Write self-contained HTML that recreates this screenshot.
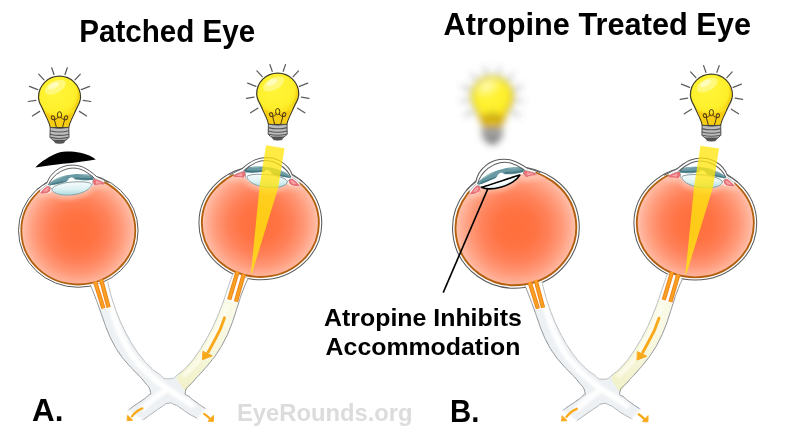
<!DOCTYPE html>
<html lang="en">
<head>
<meta charset="utf-8">
<title>Patched Eye vs Atropine Treated Eye</title>
<style>
html,body{margin:0;padding:0;background:#fff;}
body{width:800px;height:437px;overflow:hidden;}
svg{display:block;}
text{font-family:"Liberation Sans",sans-serif;font-weight:700;}
</style>
</head>
<body>
<svg width="800" height="437" viewBox="0 0 800 437">
<defs>
  <radialGradient id="vit" gradientUnits="userSpaceOnUse" cx="78.3" cy="231" r="57">
    <stop offset="0" stop-color="#ff6f3b"/>
    <stop offset="0.3" stop-color="#ff7242"/>
    <stop offset="0.55" stop-color="#ff8159"/>
    <stop offset="0.75" stop-color="#ff9877"/>
    <stop offset="0.9" stop-color="#ffaf95"/>
    <stop offset="1" stop-color="#ffc3ae"/>
  </radialGradient>
  <linearGradient id="lensg" x1="0" y1="0" x2="0" y2="1">
    <stop offset="0" stop-color="#f6fcfc"/>
    <stop offset="0.55" stop-color="#def1f3"/>
    <stop offset="1" stop-color="#a9dbe1"/>
  </linearGradient>
  <linearGradient id="nerveY" gradientUnits="userSpaceOnUse" x1="236" y1="290" x2="180" y2="388">
    <stop offset="0" stop-color="#fafae9"/>
    <stop offset="0.5" stop-color="#f8f8e0"/>
    <stop offset="0.85" stop-color="#f3f3cf"/>
    <stop offset="1" stop-color="#f1f1c8"/>
  </linearGradient>
  <radialGradient id="bulbg" gradientUnits="userSpaceOnUse" cx="56" cy="92" r="27">
    <stop offset="0" stop-color="#fff538"/>
    <stop offset="0.7" stop-color="#fff02c"/>
    <stop offset="1" stop-color="#f8dc18"/>
  </radialGradient>
  <filter id="blur" x="-40%" y="-40%" width="180%" height="180%">
    <feGaussianBlur stdDeviation="3.6"/>
  </filter>
  <filter id="soft" x="-10%" y="-10%" width="120%" height="120%">
    <feGaussianBlur stdDeviation="0.35"/>
  </filter>

  <!-- light bulb body (no rays) -->
  <g id="bulbBody">
    <path d="M50.4,127.6 C50,125 49,122.5 47.6,119.5 L41.6,106.8 C39.6,103.2 38.5,100.3 38.5,97.2 A21,21 0 1 1 80.5,97.2 C80.5,100.3 79.4,103.2 77.4,106.8 L71.4,119.5 C70,122.5 69,125 68.6,127.6 Z" fill="url(#bulbg)" stroke="#403e28" stroke-width="1.25" stroke-linejoin="round"/>
    <path d="M50.9,127 C50.3,124.5 49.3,122 48.1,119.4 L44.6,112 C49,114.6 54,115.6 59.5,115.6 C65,115.6 70,114.6 74.4,112 L70.9,119.4 C69.7,122 68.7,124.5 68.1,127 Z" fill="#f6cb14" opacity="0.9"/>
    <path d="M77.3,88 C79.3,96 76.8,105 70.8,110.5 C75.3,108.5 79.3,103.5 79.8,97.5 C80,94 79.1,90.5 77.3,88 Z" fill="#f2cf12" opacity="0.75"/>
    <ellipse cx="55.4" cy="87.2" rx="11.4" ry="6" transform="rotate(-27 55.4 87.2)" fill="#fffa92" opacity="0.75"/>
    <ellipse cx="53.6" cy="85.6" rx="6" ry="3" transform="rotate(-27 53.6 85.6)" fill="#fffcd4" opacity="0.7"/>
    <!-- filament -->
    <path d="M56.7,128.2 L54.5,120.2 M62.3,128.2 L64.5,120.2" fill="none" stroke="#4a3812" stroke-width="1" stroke-linecap="round"/>
    <ellipse cx="59.5" cy="114.8" rx="2.1" ry="3.1" fill="none" stroke="#4a3812" stroke-width="1"/>
    <ellipse cx="53" cy="117.8" rx="1.6" ry="2" transform="rotate(-28 53 117.8)" fill="none" stroke="#4a3812" stroke-width="1"/>
    <ellipse cx="66" cy="117.8" rx="1.6" ry="2" transform="rotate(28 66 117.8)" fill="none" stroke="#4a3812" stroke-width="1"/>
    <path d="M54.6,119.8 C55.8,119.2 57,118.6 58,117.6 M64.4,119.8 C63.2,119.2 62,118.6 61,117.6" fill="none" stroke="#4a3812" stroke-width="1" stroke-linecap="round"/>
    <!-- base -->
    <path d="M50.2,127.4 Q59.5,129.4 68.8,127.4 L69,137.4 Q66.8,140.2 64.6,140.6 L54.4,140.6 Q52.2,140.2 50,137.4 Z" fill="#bcbcbc" stroke="#4c4c4c" stroke-width="1" stroke-linejoin="round"/>
    <path d="M50.1,130.8 Q59.5,133.2 68.9,130.8 M50.1,134.2 Q59.5,136.6 68.9,134.2 M50.6,137.4 Q59.5,139.6 68.4,137.4" fill="none" stroke="#555" stroke-width="1.1"/>
    <path d="M53.6,140.2 L65.4,140.2 L63.6,143 Q59.5,143.8 55.4,143 Z" fill="#555" stroke="#444" stroke-width="0.6" stroke-linejoin="round"/>
  </g>
  <g id="bulbRays" stroke="#5c5c5c" stroke-width="1.25" stroke-linecap="round" fill="none">
    <path d="M51.7,67.8 L54,74.5 M67.3,67.8 L65,74.5 M38.7,74.1 L44,79.9 M80.3,74.1 L75,79.9 M29.5,86.3 L37.7,89.6 M89.5,86.3 L81.3,89.6 M28.3,101.5 L35.8,100.3 M90.7,101.5 L83.2,100.3 M32.4,116 L39.6,111.4 M86.6,116 L79.4,111.4"/>
  </g>
  <g id="bulb"><use href="#bulbRays"/><use href="#bulbBody"/></g>

  <clipPath id="flatClip"><path d="M30,193.6 L43,193.9 L50.2,192.7 L51.8,188.3 C58,190 64,190.6 69.6,190.4 C77,190 84,187 89.3,181.8 L93.2,182.4 L94.6,185.4 L100.4,184.4 L103.4,184.8 L115,186 L115,215 L30,215 Z"/></clipPath>
  <clipPath id="vitClip"><ellipse cx="78.3" cy="230.5" rx="56.4" ry="53.4"/></clipPath>
  <filter id="glow" x="-20%" y="-100%" width="140%" height="300%">
    <feGaussianBlur stdDeviation="2.4"/>
  </filter>
  <!-- eye base, drawn in absolute coordinates of the first (left) eye -->
  <g id="eyeBack">
    <ellipse cx="78.3" cy="230.5" rx="59.8" ry="56.8" fill="#fff" stroke="#5a5a5a" stroke-width="1"/>
    <ellipse cx="78.3" cy="230.5" rx="57" ry="54" fill="url(#vit)" stroke="#b25f0e" stroke-width="1.8"/>
  </g>
  <g id="glowN">
    <g clip-path="url(#vitClip)">
      <path d="M36,194 L50.2,192.7 L51.4,190.6 C52.2,191.8 54,193 56.6,194 C61.6,196 69.6,196.2 77,194.5 C84.8,192.8 90.4,189.2 92,185.8 L94.6,185.4 L100.4,184.4 L110,185.6" fill="none" stroke="#ffc6b0" stroke-width="7" stroke-linejoin="round" opacity="0.85" filter="url(#glow)"/>
    </g>
  </g>
  <g id="eyeFront">
    <!-- anterior segment background -->
    <path d="M47.2,182.6 C48.8,177.3 53.3,171.8 59.3,168.4 C63.3,166.2 67.8,165.1 72.3,165.1 C76.8,165.2 80.3,165.9 83.6,167.4 C87.3,169.1 92.3,172.6 96.6,176.6 L104.6,180.4 L103.4,184.8 L100.4,184.4 L94.6,185.4 L92,185.8 C90.4,189.2 84.8,192.8 77,194.5 C69.6,196.2 61.6,196 56.6,194 C54,193 52.2,191.8 51.4,190.6 L50.2,192.7 L43,193.9 L40,193.2 L40.4,186.4 Z" fill="#fff"/>
    <!-- sclera edges near limbus -->
    <path d="M37.2,189.2 C40.4,186.8 43.8,184.6 47.2,182.6" fill="none" stroke="#5a5a5a" stroke-width="1"/>
    <path d="M96.6,176.6 C100.6,178.2 104.6,180.2 108.6,182.6" fill="none" stroke="#5a5a5a" stroke-width="1"/>
    <path d="M39,191.4 C41.6,189 44.4,186.6 47.2,184.6" fill="none" stroke="#8a8a8a" stroke-width="0.6"/>
    <path d="M94.4,178.6 C98,179.8 101.6,181.4 105,183.2" fill="none" stroke="#8a8a8a" stroke-width="0.6"/>
    <!-- ciliary body -->
    <path d="M39.8,193.2 C41.8,190.6 44.6,188 47.4,186 L50.2,187.4 C51,188.6 50.6,190.2 49.6,191.4 C48.6,192.4 47,193 45.6,193.2 C43.6,193.8 41.6,193.8 39.8,193.2 Z" fill="#e96f76"/>
    <path d="M43,191.6 C44.4,190 46,188.6 47.6,187.6 L49,188.6 C48.4,189.8 47.6,190.8 46.6,191.6 Z" fill="#f5a3a6"/>
    <path d="M48.2,186 C49.8,186.6 51,187.6 52,189" fill="none" stroke="#7d6a6a" stroke-width="0.6"/>
    <path d="M93.8,178.8 C97.4,179.6 101.2,181 104.4,183 L103.6,184.8 C100.6,184.4 97.4,184.6 94.6,185.4 C93.6,184.4 93,183 93,181.6 C93,180.6 93.2,179.6 93.8,178.8 Z" fill="#e96f76"/>
    <path d="M95.8,180.6 C98.2,181.2 100.6,182.2 102.6,183.4 C100.4,183.2 98.2,183.4 96,183.8 Z" fill="#f5a3a6"/>
    <path d="M93.6,179.2 C92.6,181 92.4,183.4 93,185.4" fill="none" stroke="#7d6a6a" stroke-width="0.6"/>
    <!-- iris -->
    <path d="M48,184.4 C51,181.6 55.6,179 60.4,177.1 C64.4,175.6 69,174.6 74,174.2 C79,173.8 84.6,173.9 89,174.6 C91.4,175 93,176 93.8,177.6 L92.8,179.8 C88,180.8 82,180.6 76.8,179.6 L74.6,179.2 C73.8,178 72.4,177.4 71.2,177.6 C69.8,177.8 68.6,178.8 67.8,180.4 L65.6,181.8 C60,183.4 54.6,184.8 49.2,185.6 Z" fill="#6a9aa3"/>
    <path d="M49.2,185.6 C54.6,184.8 60,183.4 65.6,181.8 L67.8,180.4 C63,180.8 58,182 53.4,183.2 C51.6,183.8 50.2,184.6 49.2,185.6 Z M74.6,179.2 C80,179.4 86,179.6 92.8,179.8 L93.8,177.6 C88,178.4 81,178.2 76,177.4 Z" fill="#3f7480" opacity="0.9"/>
    <path d="M52.4,181 C56.4,178.4 61.6,176.6 66.6,175.6 C63,177.4 58,179.6 52.4,181 Z M78,174.4 C83,174.2 88,174.6 91.4,175.8 C87,175.6 82.4,175.2 78,174.4 Z" fill="#a3c6cc" opacity="0.8"/>
    <!-- cornea -->
    <path d="M47.2,182.6 C48.8,177.3 53.3,171.8 59.3,168.4 C63.3,166.2 67.8,165.1 72.3,165.1 C76.8,165.2 80.3,165.9 83.6,167.4 C87.3,169.1 92.3,172.6 96.6,176.6" fill="none" stroke="#5a5a5a" stroke-width="1"/>
    <path d="M48.6,184.6 C50.6,179.6 54.8,175 60.4,171.7 C64,169.7 68,168.3 72.2,168.1 C76,168 79.4,168.6 82.2,169.9 C85.8,171.5 90.4,174.5 94.6,178.6" fill="none" stroke="#5e5e5e" stroke-width="1"/>
  </g>
  <g id="eyeBase"><use href="#eyeBack"/><use href="#glowN"/><use href="#eyeFront"/></g>
  <g id="lensNormal">
    <path d="M52,189.2 C52.6,186.6 58,184 66,182.7 C74,181.5 84,181.4 89.4,182.8 C91.2,183.4 91.8,184.2 91.4,185.2 C90,188.8 84.6,192.4 77,194.1 C69.6,195.8 61.6,195.6 56.6,193.6 C53.6,192.4 51.8,190.6 52,189.2 Z" fill="url(#lensg)" stroke="#6f868a" stroke-width="0.8"/>
    <path d="M56,188.6 C60,185.9 68,184.2 76,183.8 C70,185.2 62,186.8 56,188.6 Z" fill="#fff" opacity="0.5"/>
  </g>
  <g id="eye"><use href="#eyeBase"/><use href="#lensNormal"/></g>

  <!-- optic nerves + chiasm, absolute coordinates of panel A -->
  <clipPath id="bodyClip"><path d="M90.5,285.3C92,289.1 92.2,289.2 95.1,296.8C98,304.4 96.5,300.5 99.3,308.2C102.1,315.9 100.6,312.1 103.4,319.8C106.2,327.5 104.5,323.8 107.7,331.4C110.9,339 109.1,335.4 112.9,342.6C116.7,349.8 114.6,346.4 119.2,353.1C123.8,359.8 121.5,356.6 126.8,362.8C132.1,369 129.6,365.8 135.2,371.8C140.8,377.8 138.5,374.4 143.5,380.8C148.5,387.2 148.9,385.9 150.2,391C151.5,396.1 150.5,392.7 147.5,396C144.5,399.3 145.8,397.7 141.2,401C136.7,404.3 138.3,402.7 133.8,406C129.2,409.3 129.6,409.3 127.5,411L141.9,420.4C142.9,419.8 141.1,421.2 145,418.5C148.9,415.8 148.3,416 153.8,412.2C159.2,408.5 156.5,410.2 161.2,407.2C166,404.3 163.5,404.1 168.1,403.3C172.7,402.5 170.6,403 175,404.8C179.4,406.5 177.1,405.8 181.2,408.5C185.4,411.2 182.9,410 187.5,412.9C192.1,415.8 191.5,415.2 195,417.2C198.5,419.3 197.1,418.5 198.1,419.1L206.2,409.1C205,408.3 205.8,408.9 202.5,406.6C199.2,404.3 200.4,405.4 196.2,402.2C192.1,399.1 193.6,400.8 190,397.2C186.4,393.7 184.3,396.8 185.4,391.5C186.5,386.2 187.8,387.9 193.4,381.3C199,374.7 196.5,378.1 202.2,371.6C207.9,365.1 205.2,368.5 210.6,361.7C216,354.9 213.6,358.4 218.3,351.1C223,343.8 220.8,347.6 224.8,339.8C228.8,332 226.9,335.9 230.2,327.8C233.5,319.7 231.8,323.8 234.6,315.5C237.4,307.2 235.9,311.3 238.6,303C241.3,294.7 239.7,298.8 242.8,290.7C245.9,282.6 246.2,282.7 247.9,278.7L232.8,273.9C231.4,277.9 231.3,277.8 228.6,285.8C225.9,293.8 227.4,289.8 224.6,297.8C221.8,305.8 223.3,301.9 220.2,309.7C217.1,317.5 218.8,313.7 215.4,321.3C212,328.9 213.8,325.2 209.9,332.6C206,340 208.1,336.4 203.7,343.6C199.3,350.8 201.7,347.4 196.8,354.3C191.9,361.2 194.6,358.1 189,364.3C183.4,370.5 186.6,368.1 179.9,372.9C173.2,377.7 176,378.6 168.8,378.8C161.6,379 164.8,377.7 158.3,373.4C151.8,369.1 154.9,371.3 149.2,365.9C143.5,360.5 146.3,363.3 141.3,357.2C136.3,351.1 138.7,354.1 134.3,347.5C129.9,340.9 132,344.2 128.2,337.3C124.4,330.4 126.2,333.8 122.8,326.7C119.4,319.6 121,323.2 118.1,315.9C115.2,308.6 116.5,312.3 114,304.8C111.5,297.3 112.6,301.1 110.5,293.5C108.4,285.9 108.6,285.8 107.7,281.9Z"/></clipPath>
  <g id="chiasm">
    <path d="M90.5,285.3C92,289.1 92.2,289.2 95.1,296.8C98,304.4 96.5,300.5 99.3,308.2C102.1,315.9 100.6,312.1 103.4,319.8C106.2,327.5 104.5,323.8 107.7,331.4C110.9,339 109.1,335.4 112.9,342.6C116.7,349.8 114.6,346.4 119.2,353.1C123.8,359.8 121.5,356.6 126.8,362.8C132.1,369 129.6,365.8 135.2,371.8C140.8,377.8 138.5,374.4 143.5,380.8C148.5,387.2 148.9,385.9 150.2,391C151.5,396.1 150.5,392.7 147.5,396C144.5,399.3 145.8,397.7 141.2,401C136.7,404.3 138.3,402.7 133.8,406C129.2,409.3 129.6,409.3 127.5,411L141.9,420.4C142.9,419.8 141.1,421.2 145,418.5C148.9,415.8 148.3,416 153.8,412.2C159.2,408.5 156.5,410.2 161.2,407.2C166,404.3 163.5,404.1 168.1,403.3C172.7,402.5 170.6,403 175,404.8C179.4,406.5 177.1,405.8 181.2,408.5C185.4,411.2 182.9,410 187.5,412.9C192.1,415.8 191.5,415.2 195,417.2C198.5,419.3 197.1,418.5 198.1,419.1L206.2,409.1C205,408.3 205.8,408.9 202.5,406.6C199.2,404.3 200.4,405.4 196.2,402.2C192.1,399.1 193.6,400.8 190,397.2C186.4,393.7 184.3,396.8 185.4,391.5C186.5,386.2 187.8,387.9 193.4,381.3C199,374.7 196.5,378.1 202.2,371.6C207.9,365.1 205.2,368.5 210.6,361.7C216,354.9 213.6,358.4 218.3,351.1C223,343.8 220.8,347.6 224.8,339.8C228.8,332 226.9,335.9 230.2,327.8C233.5,319.7 231.8,323.8 234.6,315.5C237.4,307.2 235.9,311.3 238.6,303C241.3,294.7 239.7,298.8 242.8,290.7C245.9,282.6 246.2,282.7 247.9,278.7L232.8,273.9C231.4,277.9 231.3,277.8 228.6,285.8C225.9,293.8 227.4,289.8 224.6,297.8C221.8,305.8 223.3,301.9 220.2,309.7C217.1,317.5 218.8,313.7 215.4,321.3C212,328.9 213.8,325.2 209.9,332.6C206,340 208.1,336.4 203.7,343.6C199.3,350.8 201.7,347.4 196.8,354.3C191.9,361.2 194.6,358.1 189,364.3C183.4,370.5 186.6,368.1 179.9,372.9C173.2,377.7 176,378.6 168.8,378.8C161.6,379 164.8,377.7 158.3,373.4C151.8,369.1 154.9,371.3 149.2,365.9C143.5,360.5 146.3,363.3 141.3,357.2C136.3,351.1 138.7,354.1 134.3,347.5C129.9,340.9 132,344.2 128.2,337.3C124.4,330.4 126.2,333.8 122.8,326.7C119.4,319.6 121,323.2 118.1,315.9C115.2,308.6 116.5,312.3 114,304.8C111.5,297.3 112.6,301.1 110.5,293.5C108.4,285.9 108.6,285.8 107.7,281.9Z" fill="#eef1f4"/>
    <path d="M232.8,273.9C231.4,277.9 231.3,277.8 228.6,285.8C225.9,293.8 227.4,289.8 224.6,297.8C221.8,305.8 223.3,301.9 220.2,309.7C217.1,317.5 218.8,313.7 215.4,321.3C212,328.9 213.8,325.2 209.9,332.6C206,340 208.1,336.4 203.7,343.6C199.3,350.8 201.7,347.4 196.8,354.3C191.9,361.2 194.6,358.1 189,364.3C183.4,370.5 182.9,370 179.9,372.9L176.4,378.2 L184.6,391 L185.4,391.5C188.1,388.1 187.8,387.9 193.4,381.3C199,374.7 196.5,378.1 202.2,371.6C207.9,365.1 205.2,368.5 210.6,361.7C216,354.9 213.6,358.4 218.3,351.1C223,343.8 220.8,347.6 224.8,339.8C228.8,332 226.9,335.9 230.2,327.8C233.5,319.7 231.8,323.8 234.6,315.5C237.4,307.2 235.9,311.3 238.6,303C241.3,294.7 239.7,298.8 242.8,290.7C245.9,282.6 246.2,282.7 247.9,278.7Z" fill="url(#nerveY)"/>
    <path d="M110,302 C114,320 121,338 131,354 C140,367 152,378 166,388 C174,393 183,399 192,405" fill="none" stroke="#fff" stroke-width="6" stroke-linecap="round" opacity="0.95" filter="url(#soft2)"/>
    <path d="M166,390 C158,395 150,401 143,408" fill="none" stroke="#fff" stroke-width="6" stroke-linecap="round" opacity="0.9" filter="url(#soft2)"/>
    <path d="M227,306 C222,320 215,335 207,348 C201,358 193,368 184,375" fill="none" stroke="#fffef4" stroke-width="4" stroke-linecap="round" opacity="0.75" filter="url(#soft2)"/>
    <g clip-path="url(#bodyClip)">
      <path d="M84,278 L112,276 L120,308.2 L96,309.6 Z" fill="#fff"/>
      <path d="M228,268 L254,276 L242,304.4 L219,298.6 Z" fill="#fff"/>
    </g>
    <path d="M90.5,285.3C92,289.1 92.2,289.2 95.1,296.8C98,304.4 96.5,300.5 99.3,308.2C102.1,315.9 100.6,312.1 103.4,319.8C106.2,327.5 104.5,323.8 107.7,331.4C110.9,339 109.1,335.4 112.9,342.6C116.7,349.8 114.6,346.4 119.2,353.1C123.8,359.8 121.5,356.6 126.8,362.8C132.1,369 129.6,365.8 135.2,371.8C140.8,377.8 138.5,374.4 143.5,380.8C148.5,387.2 148.9,385.9 150.2,391C151.5,396.1 150.5,392.7 147.5,396C144.5,399.3 145.8,397.7 141.2,401C136.7,404.3 138.3,402.7 133.8,406C129.2,409.3 129.6,409.3 127.5,411M206.2,409.1C205,408.3 205.8,408.9 202.5,406.6C199.2,404.3 200.4,405.4 196.2,402.2C192.1,399.1 193.6,400.8 190,397.2C186.4,393.7 184.3,396.8 185.4,391.5C186.5,386.2 187.8,387.9 193.4,381.3C199,374.7 196.5,378.1 202.2,371.6C207.9,365.1 205.2,368.5 210.6,361.7C216,354.9 213.6,358.4 218.3,351.1C223,343.8 220.8,347.6 224.8,339.8C228.8,332 226.9,335.9 230.2,327.8C233.5,319.7 231.8,323.8 234.6,315.5C237.4,307.2 235.9,311.3 238.6,303C241.3,294.7 239.7,298.8 242.8,290.7C245.9,282.6 246.2,282.7 247.9,278.7" fill="none" stroke="#8e9397" stroke-width="1" stroke-linecap="round"/>
    <path d="M232.8,273.9C231.4,277.9 231.3,277.8 228.6,285.8C225.9,293.8 227.4,289.8 224.6,297.8C221.8,305.8 223.3,301.9 220.2,309.7C217.1,317.5 218.8,313.7 215.4,321.3C212,328.9 213.8,325.2 209.9,332.6C206,340 208.1,336.4 203.7,343.6C199.3,350.8 201.7,347.4 196.8,354.3C191.9,361.2 194.6,358.1 189,364.3C183.4,370.5 186.6,368.1 179.9,372.9C173.2,377.7 176,378.6 168.8,378.8C161.6,379 164.8,377.7 158.3,373.4C151.8,369.1 154.9,371.3 149.2,365.9C143.5,360.5 146.3,363.3 141.3,357.2C136.3,351.1 138.7,354.1 134.3,347.5C129.9,340.9 132,344.2 128.2,337.3C124.4,330.4 126.2,333.8 122.8,326.7C119.4,319.6 121,323.2 118.1,315.9C115.2,308.6 116.5,312.3 114,304.8C111.5,297.3 112.6,301.1 110.5,293.5C108.4,285.9 108.6,285.8 107.7,281.9" fill="none" stroke="#b0b5b9" stroke-width="0.9" stroke-linecap="round"/>
    <path d="M141.9,420.4C142.9,419.8 141.1,421.2 145,418.5C148.9,415.8 148.3,416 153.8,412.2C159.2,408.5 156.5,410.2 161.2,407.2C166,404.3 163.5,404.1 168.1,403.3C172.7,402.5 170.6,403 175,404.8C179.4,406.5 177.1,405.8 181.2,408.5C185.4,411.2 182.9,410 187.5,412.9C192.1,415.8 191.5,415.2 195,417.2C198.5,419.3 197.1,418.5 198.1,419.1" fill="none" stroke="#a0a5a9" stroke-width="0.9" stroke-linecap="round"/>
    <path d="M125.5,411.5 L141.5,422.5 M208.6,409.4 L198.4,421.6" fill="none" stroke="#fff" stroke-width="5.5" stroke-linecap="round" filter="url(#soft2)"/>
  </g>
  <g id="sheathL">
    <path d="M95.1,281.6 L103.4,308.3" stroke="#f0861a" stroke-width="4.3" fill="none"/>
    <path d="M101.1,279.6 L108.6,307.4" stroke="#f0861a" stroke-width="4.3" fill="none"/>
    <path d="M95.1,281.6 L103.4,308.3 M101.1,279.6 L108.6,307.4" stroke="#f9a124" stroke-width="2.2" fill="none"/>
  </g>
  <g id="sheathR">
    <path d="M237.6,271.6 L229.2,299.6" stroke="#f0861a" stroke-width="4.3" fill="none"/>
    <path d="M243.8,274.2 L235.9,301.6" stroke="#f0861a" stroke-width="4.3" fill="none"/>
    <path d="M237.6,271.6 L229.2,299.6 M243.8,274.2 L235.9,301.6" stroke="#f9a124" stroke-width="2.2" fill="none"/>
  </g>
  <g id="arrows" fill="none" stroke="#f9a81a" stroke-linecap="round" stroke-linejoin="round">
    <path d="M224.5,317.8 C222,326 218.4,334 214,341.4 C212,345.2 210,349 208.2,352" stroke-width="2.9"/>
    <path d="M203.2,351.4 L212.2,355.8 L202.8,359.6 Z" fill="#f9a81a" stroke-width="1"/>
    <path d="M142.3,408.4 C138,410 134.6,413 132,416.4" stroke-width="2.3"/>
    <path d="M127.9,415.6 L132.6,420.2 L127.4,420.6 Z" fill="#f9a81a" stroke-width="1"/>
    <path d="M204.2,413.9 C206.4,415.4 208.4,417.2 210.2,419" stroke-width="2.3"/>
    <path d="M213.5,415.6 L213.4,421.4 L208.4,421.2 Z" fill="#f9a81a" stroke-width="1"/>
  </g>
  <polygon id="beam" points="266,145.3 284.5,148.2 278.4,187 251.9,273.6 250.9,273.6 259.6,186" fill="#ffe610" opacity="0.78"/>
  <filter id="soft2" x="-20%" y="-20%" width="140%" height="140%">
    <feGaussianBlur stdDeviation="1.2"/>
  </filter>
</defs>

<rect width="800" height="437" fill="#fff"/>

<!-- ============ Panel A ============ -->
<g id="panelA">
  <use href="#eye"/>
  <use href="#eye" transform="translate(260.35,-7.5) scale(-1.027,1) translate(-78.3,0)"/>
  <use href="#chiasm"/>
  <use href="#sheathL"/>
  <use href="#sheathR"/>
  <use href="#arrows"/>
  <use href="#beam"/>
  <use href="#bulb"/>
  <use href="#bulb" transform="translate(218.2,-3.2)"/>
  <path d="M35.4,167.4 C38.5,164 41.8,161.4 45.2,159.4 C48,157.4 51,155.7 54,154.4 C58,152.7 62,151.7 66.3,151.6 C71,151.5 76,151.9 80.4,152.7 C83.5,153.4 86.5,154.4 89.2,155.5 C91.6,156.6 93.8,157.9 95.8,159.4 C90.5,160.4 85.5,161.1 80.4,161.7 C74.5,162.5 68.5,163.2 62.8,163.8 C53.5,164.9 44.5,166.1 35.4,167.4 Z" fill="#000"/>
</g>

<!-- ============ Panel B ============ -->
<g id="panelB">
  <g transform="translate(515.9,227.6) rotate(-8.4) scale(1.06,1.066) translate(-78.3,-230.5)">
    <use href="#eyeBack"/>
    <use href="#eyeFront"/>
    <path d="M47,194.6 L51.8,188.3 C58,190 64,190.6 69.6,190.4 C77,190 84,187 89.3,181.8 L93.2,182.4 L95.2,185.8 C93,190 88.6,192.6 85.3,193.6 C80,196.4 70,197.4 65.2,196.8 C60,196.4 55.2,195.6 50.1,194.6 Z" fill="url(#vit)"/>
    <g clip-path="url(#vitClip)"><g clip-path="url(#flatClip)">
      <path d="M36,194 L50.2,192.7 L51.8,188.3 C58,190 64,190.6 69.6,190.4 C77,190 84,187 89.3,181.8 L94.6,185.4 L100.4,184.4 L110,185.6" fill="none" stroke="#ffc6b0" stroke-width="7" stroke-linejoin="round" opacity="0.85" filter="url(#glow)"/>
    </g></g>
  </g>
  <g id="lensFlat" transform="translate(0,0)">
    <path d="M481.4,187.3 C487,185.8 512,177.4 519.8,175.1 C517.5,179.5 510,184.6 501.5,187 C494,189.1 485.5,189.3 481.4,187.3 Z" fill="#e4f3f5" stroke="#000" stroke-width="1.6" stroke-linejoin="round"/>
    <path d="M486,187 C493,184.8 506,180.6 514,178 C510,181.6 504,184.6 498,186 C494,187 489.5,187.4 486,187 Z" fill="#fff" opacity="0.7"/>
  </g>
  <use href="#eye" transform="translate(695.3,-7.2) scale(-1.027,1) translate(-78.3,0)"/>
  <g transform="translate(434.5,0.4)">
    <use href="#chiasm"/>
    <use href="#sheathL"/>
    <use href="#sheathR"/>
    <use href="#arrows"/>
    <use href="#beam"/>
  </g>
  <use href="#bulb" transform="translate(651.9,-2.2)"/>
  <g filter="url(#blur)"><use href="#bulb" transform="translate(432.8,0)"/></g>
  <path d="M488,188.4 L443.2,292.6" stroke="#000" stroke-width="1.6" fill="none"/>
</g>

<!-- ============ Labels ============ -->
<g id="labels" opacity="0.999">
<text x="79.2" y="42.3" font-size="30.8" textLength="176" lengthAdjust="spacingAndGlyphs" fill="#000">Patched Eye</text>
<text x="443.6" y="35.4" font-size="30.8" textLength="307.4" lengthAdjust="spacingAndGlyphs" fill="#000">Atropine Treated Eye</text>
<text x="324" y="326.1" font-size="24" textLength="197.8" lengthAdjust="spacingAndGlyphs" fill="#000">Atropine Inhibits</text>
<text x="325.6" y="355" font-size="24" textLength="194.8" lengthAdjust="spacingAndGlyphs" fill="#000">Accommodation</text>
<text x="32" y="421.3" font-size="30.8" textLength="31.4" lengthAdjust="spacingAndGlyphs" fill="#000">A.</text>
<text x="450" y="422" font-size="30.8" textLength="29.4" lengthAdjust="spacingAndGlyphs" fill="#000">B.</text>
<text x="237" y="420.6" font-size="24.6" textLength="175.6" lengthAdjust="spacingAndGlyphs" fill="#dcdcdc">EyeRounds.org</text>
</g>
</svg>
</body>
</html>
